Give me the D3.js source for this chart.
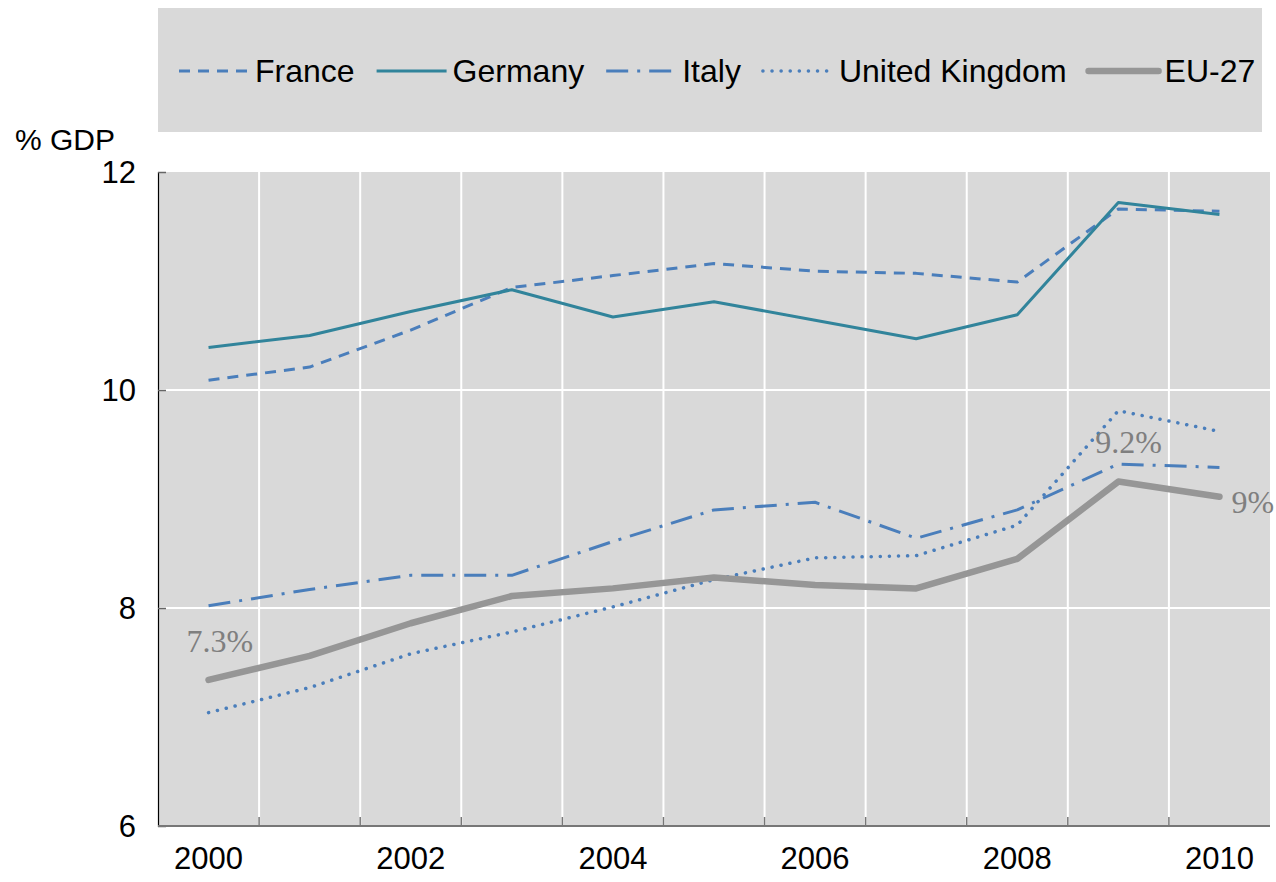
<!DOCTYPE html>
<html>
<head>
<meta charset="utf-8">
<script src="https://cdn.jsdelivr.net/npm/d3@7"></script>
<style>
  body { margin: 0; background: #fff; }
  svg text { font-family: "Liberation Sans", Arial, sans-serif; }
  svg text.note { font-family: "Liberation Serif", "Times New Roman", serif; }
</style>
</head>
<body>
<svg id="chart" width="1276" height="882"></svg>
<script>
const years = [2000, 2001, 2002, 2003, 2004, 2005, 2006, 2007, 2008, 2009, 2010];
const tickYears = [2000, 2002, 2004, 2006, 2008, 2010];
const yTicks = [6, 8, 10, 12];

const france = [10.09, 10.21, 10.55, 10.94, 11.05, 11.16, 11.09, 11.07, 10.99, 11.66, 11.64];
const germany = [10.39, 10.50, 10.72, 10.92, 10.67, 10.81, 10.64, 10.47, 10.69, 11.72, 11.61];
const italy = [8.02, 8.17, 8.30, 8.30, 8.61, 8.90, 8.97, 8.64, 8.90, 9.32, 9.29];
const uk = [7.04, 7.27, 7.58, 7.78, 8.01, 8.26, 8.46, 8.48, 8.76, 9.81, 9.62];
const eu27 = [7.34, 7.56, 7.86, 8.11, 8.18, 8.28, 8.21, 8.18, 8.45, 9.16, 9.02];

const series = [
    {name: "France", values: france, color: "#4a7ebb", width: 3, dash: "11,8", cap: "butt"},
    {name: "Germany", values: germany, color: "#31849b", width: 3, dash: null, cap: "butt"},
    {name: "Italy", values: italy, color: "#4a7ebb", width: 3, dash: "22,9,3,9", cap: "butt"},
    {name: "United Kingdom", values: uk, color: "#4a7ebb", width: 3.5, dash: "0.1,9", cap: "round"},
    {name: "EU-27", values: eu27, color: "#969696", width: 6.5, dash: null, cap: "round"}
];

// value labels on the EU-27 line
const euLabels = [
    {year: 2000, text: "7.3%", dx: -22, dy: -28},
    {year: 2009, text: "9.2%", dx: -23, dy: -29},
    {year: 2010, text: "9%", dx: 12, dy: 16}
];

const plotLeft = 158, plotRight = 1270, plotTop = 172, plotBottom = 826;

const svg = d3.select("#chart");

const x = d3.scalePoint()
    .domain(years)
    .range([plotLeft, plotRight])
    .padding(0.5);

const y = d3.scaleLinear()
    .domain([6, 12])
    .range([plotBottom, plotTop]);

// legend box
svg.append("rect")
    .attr("x", 158).attr("y", 8)
    .attr("width", 1104).attr("height", 124)
    .attr("fill", "#d9d9d9");

// plot background
svg.append("rect")
    .attr("x", plotLeft).attr("y", plotTop)
    .attr("width", plotRight - plotLeft).attr("height", plotBottom - plotTop)
    .attr("fill", "#d9d9d9");

const step = x.step();

// vertical gridlines at category boundaries
svg.append("g")
    .selectAll("line")
    .data(years.slice(1))
    .enter().append("line")
    .attr("x1", d => x(d) - step / 2)
    .attr("x2", d => x(d) - step / 2)
    .attr("y1", plotTop)
    .attr("y2", plotBottom)
    .attr("stroke", "#fff")
    .attr("stroke-width", 2);

// horizontal gridlines
svg.append("g")
    .selectAll("line")
    .data(yTicks.filter(d => d > 6 && d < 12))
    .enter().append("line")
    .attr("x1", plotLeft)
    .attr("x2", plotRight)
    .attr("y1", d => y(d))
    .attr("y2", d => y(d))
    .attr("stroke", "#fff")
    .attr("stroke-width", 2);

// y axis
const yAxis = svg.append("g")
    .attr("transform", `translate(${plotLeft},0)`)
    .call(d3.axisRight(y).tickValues(yTicks).tickSize(8).tickFormat(""));
yAxis.select(".domain").attr("stroke", "#000").attr("stroke-width", 1.2);
yAxis.selectAll(".tick line").attr("stroke", "#666").attr("stroke-width", 1.5);

svg.append("g")
    .selectAll("text")
    .data(yTicks)
    .enter().append("text")
    .attr("x", 136)
    .attr("y", d => y(d))
    .attr("dy", "0.35em")
    .attr("text-anchor", "end")
    .attr("font-size", 31)
    .attr("fill", "#000")
    .text(d => d);

svg.append("text")
    .attr("x", 15)
    .attr("y", 150)
    .attr("font-size", 30)
    .attr("fill", "#000")
    .text("% GDP");

// x axis
const xAxis = svg.append("g")
    .attr("transform", `translate(0,${plotBottom})`);
xAxis.append("line")
    .attr("x1", plotLeft).attr("x2", plotRight)
    .attr("stroke", "#777").attr("stroke-width", 2);
xAxis.selectAll(".tk")
    .data(years.slice(1))
    .enter().append("line")
    .attr("class", "tk")
    .attr("x1", d => x(d) - step / 2)
    .attr("x2", d => x(d) - step / 2)
    .attr("y1", 0).attr("y2", -9)
    .attr("stroke", "#777").attr("stroke-width", 1.5);
xAxis.selectAll("text")
    .data(tickYears)
    .enter().append("text")
    .attr("x", d => x(d))
    .attr("y", 43)
    .attr("text-anchor", "middle")
    .attr("font-size", 31)
    .attr("fill", "#000")
    .text(d => d);

// lines
const line = d3.line()
    .x((d, i) => x(years[i]))
    .y(d => y(d));

svg.append("g")
    .selectAll("path")
    .data(series)
    .enter().append("path")
    .attr("d", d => line(d.values))
    .attr("fill", "none")
    .attr("stroke", d => d.color)
    .attr("stroke-width", d => d.width)
    .attr("stroke-dasharray", d => d.dash)
    .attr("stroke-linecap", d => d.cap)
    .attr("stroke-linejoin", "round");

// EU-27 value labels
svg.append("g")
    .selectAll("text")
    .data(euLabels)
    .enter().append("text")
    .attr("class", "note")
    .attr("x", d => x(d.year) + d.dx)
    .attr("y", d => y(eu27[years.indexOf(d.year)]) + d.dy)
    .attr("font-size", 32)
    .attr("fill", "#7f7f7f")
    .text(d => d.text);

// legend
const legend = svg.append("g");
let lx = 179;
const ly = 71;
series.forEach(s => {
    legend.append("line")
        .attr("x1", lx).attr("x2", lx + 70)
        .attr("y1", ly).attr("y2", ly)
        .attr("stroke", s.color)
        .attr("stroke-width", s.width)
        .attr("stroke-dasharray", s.dash)
        .attr("stroke-linecap", s.cap);
    const t = legend.append("text")
        .attr("x", lx + 76)
        .attr("y", ly + 11)
        .attr("font-size", 32)
        .attr("fill", "#000")
        .text(s.name);
    lx = lx + 76 + t.node().getComputedTextLength() + 22;
});
</script>
</body>
</html>
